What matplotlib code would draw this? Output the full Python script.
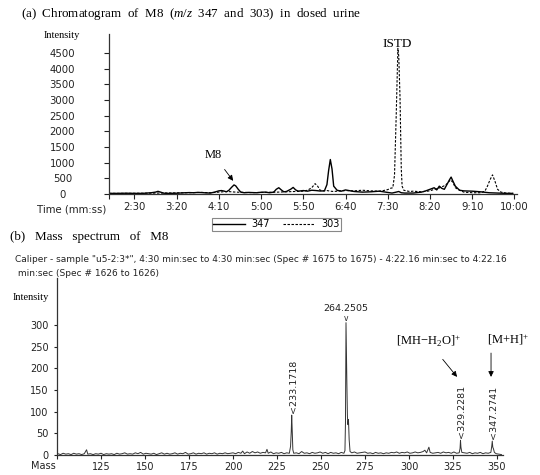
import matplotlib
matplotlib.use("Agg")
import matplotlib.pyplot as plt

# ---------------- data ----------------
# (a) chromatogram, time in seconds
t_347 = [120, 130, 140, 150, 160, 170, 175, 178, 181, 185, 190, 200, 210, 215, 220, 225, 230, 235,
         240, 245, 250, 253, 256, 259, 262, 265, 268, 270, 273, 276, 280, 285, 290, 295, 300, 305,
         310, 315, 318, 321, 324, 327, 330, 335, 338, 341, 344, 350, 355, 360, 365, 370, 375, 378,
         380, 382, 384, 386, 390, 395, 400, 410, 420, 430, 440, 450, 455, 460, 463, 466, 470, 480,
         490, 495, 500, 505, 508, 511, 514, 517, 520, 523, 525, 527, 530, 535, 540, 550, 560, 570,
         580, 590, 598]
i_347 = [20, 20, 25, 20, 20, 40, 60, 85, 60, 25, 20, 25, 40, 45, 40, 50, 45, 35,
         30, 60, 100, 110, 95, 70, 120, 210, 290, 260, 150, 60, 40, 50, 45, 40, 55, 60,
         40, 60, 150, 200, 130, 70, 80, 150, 210, 130, 90, 110, 90, 120, 110, 95, 100, 300,
         750, 1100, 800, 250, 120, 90, 130, 80, 60, 70, 90, 50, 30, 60, 80, 40, 30, 30,
         60, 100, 150, 200, 130, 250, 180, 150, 300, 450, 540, 420, 250, 120, 100, 90, 70, 40,
         30, 20, 20]

t_303 = [120, 140, 160, 180, 200, 220, 230, 240, 250, 260, 270, 280, 290, 300, 310, 320, 330, 340,
         350, 355, 360, 364, 367, 370, 374, 378, 382, 386, 390, 400, 410, 420, 430, 440, 445, 450,
         453, 456, 458, 460, 462, 463, 464.5, 466, 467, 469, 472, 476, 480, 490, 500, 505, 510, 513,
         516, 519, 521, 524, 527, 530, 535, 540, 550, 560, 565, 568, 571, 574, 577, 580, 584, 590, 598]
i_303 = [20, 20, 25, 30, 35, 45, 50, 40, 60, 80, 60, 50, 45, 50, 55, 60, 70, 80,
         90, 120, 200, 330, 250, 120, 100, 110, 90, 80, 90, 110, 100, 120, 100, 90, 110, 140,
         180, 200, 600, 2500, 4650, 4400, 3100, 800, 250, 120, 100, 80, 90, 70, 100, 150, 180, 220,
         250, 300, 350, 450, 380, 200, 120, 60, 40, 40, 90, 250, 450, 610, 400, 150, 60, 30, 20]

chrom_yticks = [0, 500, 1000, 1500, 2000, 2500, 3000, 3500, 4000, 4500]
chrom_xticks = [150, 200, 250, 300, 350, 400, 450, 500, 550, 600]

# (b) mass spectrum
mz = [100.5, 102, 103.5, 105, 106.5, 108, 109.5, 111, 112.5, 114, 115.5, 116.8, 117.5, 119, 120.5,
      122, 123.5, 125, 126.5, 128, 129.5, 131, 132.5, 134, 135.5, 137, 138.5, 140, 141.5, 143,
      144.5, 146, 147.5, 149, 150.5, 152, 153.5, 155, 156.5, 158, 159.5, 161, 162.5, 164, 165.5,
      167, 168.5, 170, 171.5, 173, 174.5, 176, 177.5, 179, 180.5, 182, 183.5, 185, 186.5, 188,
      189.5, 191, 192.5, 194, 195.5, 197, 198.5, 200, 201.5, 203, 204.5, 205.5, 206.5, 208, 209.5,
      211, 212.5, 214, 215.5, 217, 218.5, 219.3, 220, 221.5, 223, 224.5, 226, 227.5, 229, 230.5,
      232, 232.7, 233.1, 233.35, 233.6, 234, 234.5, 236, 237.5, 239, 240.5, 242, 243.5, 245, 246.5,
      248, 249.5, 251, 252.5, 254, 255.5, 257, 258.5, 260, 261.5, 263, 263.6, 263.9, 264.2, 264.45,
      264.7, 265, 265.3, 265.6, 266, 266.5, 267.5, 269, 270.5, 272, 273.5, 275, 276.5, 278, 279.5,
      281, 282.5, 284, 285.5, 287, 288.5, 290, 291.5, 293, 294.5, 296, 297.5, 299, 300.5, 302,
      303.5, 305, 306.5, 308, 309, 310, 311.3, 312, 313.5, 315, 316.5, 318, 319.5, 321, 322.5,
      324, 325.5, 327, 328.5, 329.0, 329.25, 329.5, 330, 331.5, 333, 334.5, 336, 337.5, 339,
      340.5, 342, 343.5, 345, 346.5, 347.0, 347.3, 347.6, 348, 348.5, 349.5, 351, 352.5]
ms_int = [3, 1, 4, 2, 3, 1, 4, 2, 3, 1, 3, 12, 2, 3, 1,
          3, 2, 4, 1, 3, 2, 3, 1, 4, 2, 3, 5, 2, 3, 2,
          5, 3, 6, 2, 4, 3, 2, 4, 1, 3, 5, 2, 4, 2, 3,
          5, 2, 4, 3, 6, 2, 3, 5, 2, 4, 3, 5, 2, 4, 3,
          5, 2, 4, 3, 5, 3, 4, 5, 3, 6, 4, 9, 3, 7, 4,
          8, 5, 7, 4, 6, 5, 13, 4, 7, 3, 5, 4, 6, 3, 5,
          4, 20, 55, 92, 60, 12, 4, 5, 3, 8, 4, 5, 3, 6, 4,
          5, 7, 4, 6, 3, 6, 4, 5, 3, 6, 4, 10, 75, 305, 225,
          165, 90, 70, 82, 35, 8, 5, 7, 4, 5, 6, 7, 4, 5, 3,
          6, 4, 5, 3, 5, 4, 6, 5, 7, 4, 6, 5, 7, 4, 5,
          7, 5, 6, 8, 11, 5, 18, 6, 4, 5, 6, 4, 7, 5, 6,
          4, 7, 4, 5, 15, 34, 18, 6, 5, 4, 6, 3, 5, 4,
          6, 3, 5, 4, 6, 20, 32, 18, 14, 6, 3, 2, 1]
ms_yticks = [0, 50, 100, 150, 200, 250, 300]
ms_xticks = [100, 125, 150, 175, 200, 225, 250, 275, 300, 325, 350]
peak_labels = [(233.35, 92, "<233.1718"), (329.25, 34, "<329.2281"), (347.3, 32, "<347.2741")]
base_peak = (264.2, 305, "264.2505")

# ---------------- style ----------------
plt.rcParams["font.family"] = ["DejaVu Sans"]
plt.rcParams["mathtext.fontset"] = "custom"
plt.rcParams["mathtext.rm"] = "Liberation Serif"
plt.rcParams["mathtext.it"] = "Liberation Serif:italic"
SERIF = ["Liberation Serif", "DejaVu Serif"]
W, H = 540, 475


def fx(px):
    return px / W


def fy(py):
    return 1 - py / H


fig = plt.figure(figsize=(5.4, 4.75), dpi=100)
fig.patch.set_facecolor("white")

# ---------------- (a) chromatogram ----------------
ax1 = fig.add_axes([fx(109), fy(194), fx(517) - fx(109), fy(34) - fy(194)])
ax1.plot(t_347, i_347, color="black", lw=1.0, label="347")
ax1.plot(t_303, i_303, color="black", lw=0.8, ls=(0, (2.2, 1.4)), label="303")
ax1.set_xlim(120, 603)
ax1.set_ylim(0, 5106)
for s in ["top", "right"]:
    ax1.spines[s].set_visible(False)
for s in ["left", "bottom"]:
    ax1.spines[s].set_color("#333333")
    ax1.spines[s].set_linewidth(0.9)
ax1.set_yticks(chrom_yticks)
ax1.set_yticklabels([str(v) for v in chrom_yticks])
for lab in ax1.get_yticklabels():
    lab.set_horizontalalignment("center")
ax1.tick_params(axis="y", direction="out", length=3.6, width=0.8, pad=30, labelsize=7.3, colors="#222222")
ax1.set_xticks([120] + chrom_xticks)
ax1.set_xticklabels([""] + ["%d:%02d" % (v // 60, v % 60) for v in chrom_xticks])
ax1.tick_params(axis="x", direction="out", length=3.6, width=0.8, pad=2.5, labelsize=7.3, colors="#222222")

fig.text(fx(62), fy(35), "Intensity", ha="center", va="center", fontsize=7.5, family=SERIF)
fig.text(fx(106), fy(210), "Time (mm:ss)", ha="right", va="center", fontsize=7.3, color="#222222")
fig.text(fx(21), fy(14), r"(a)  Chromatogram  of  M8  ($m/z$  347  and  303)  in  dosed  urine",
         ha="left", va="center", fontsize=9.4, family=SERIF)

ax1.annotate("M8", xy=(267, 420), xytext=(244, 1240), ha="center", va="center",
             fontsize=9, family=SERIF,
             arrowprops=dict(arrowstyle="-|>", color="black", lw=0.6, mutation_scale=8,
                             shrinkA=5, shrinkB=0))
ax1.text(461, 4790, "ISTD", ha="center", va="center", fontsize=9.5, family=SERIF)

leg = ax1.legend(loc="center", bbox_to_anchor=(0.41, -0.19), ncol=2, fontsize=7,
                 handlelength=3.3, handletextpad=0.6, columnspacing=1.4,
                 borderpad=0.15, fancybox=False, framealpha=1)
leg.get_frame().set_edgecolor("#888888")
leg.get_frame().set_linewidth(0.8)

# ---------------- (b) mass spectrum ----------------
ax2 = fig.add_axes([fx(57), fy(455), fx(503) - fx(57), fy(278) - fy(455)])
ax2.plot(mz, ms_int, color="#333333", lw=0.7)
ax2.set_xlim(100, 353.4)
ax2.set_ylim(0, 408)
for s in ["top", "right"]:
    ax2.spines[s].set_visible(False)
for s in ["left", "bottom"]:
    ax2.spines[s].set_color("#333333")
    ax2.spines[s].set_linewidth(0.9)
ax2.set_yticks(ms_yticks)
ax2.tick_params(axis="y", direction="out", length=2.5, width=0.8, pad=3.5, labelsize=7, colors="#222222")
ax2.set_xticks(ms_xticks)
ax2.set_xticklabels([""] + [str(v) for v in ms_xticks[1:]])
ax2.tick_params(axis="x", direction="out", length=3, width=0.8, pad=2, labelsize=7, colors="#222222")

fig.text(fx(31), fy(297), "Intensity", ha="center", va="center", fontsize=7.5, family=SERIF)
fig.text(fx(56), fy(466), "Mass", ha="right", va="center", fontsize=7, color="#222222")
fig.text(fx(10), fy(237), "(b)   Mass   spectrum   of   M8", ha="left", va="center",
         fontsize=9.4, family=SERIF)
fig.text(fx(15), fy(260),
         'Caliper - sample "u5-2:3*", 4:30 min:sec to 4:30 min:sec (Spec # 1675 to 1675) - 4:22.16 min:sec to 4:22.16',
         ha="left", va="center", fontsize=6.5, color="#222222")
fig.text(fx(15), fy(273), " min:sec (Spec # 1626 to 1626)",
         ha="left", va="center", fontsize=6.5, color="#222222")

for m, h, txt in peak_labels:
    ax2.annotate(txt, xy=(m, h), xytext=(1, 1.5), textcoords="offset points",
                 rotation=90, ha="center", va="bottom", fontsize=6.8, color="#222222")
bm, bh, btxt = base_peak
ax2.annotate("v", xy=(bm, bh), xytext=(0, 0), textcoords="offset points",
             ha="center", va="bottom", fontsize=5.5, color="#222222")
ax2.annotate(btxt, xy=(bm, bh), xytext=(0, 7), textcoords="offset points",
             ha="center", va="bottom", fontsize=6.8, color="#222222")

ax2.annotate(r"[MH$-$H$_2$O]$^{+}$", xy=(327.3, 180), xytext=(310.8, 262),
             ha="center", va="center", fontsize=9, family=SERIF, annotation_clip=False,
             arrowprops=dict(arrowstyle="-|>", color="black", lw=0.6, mutation_scale=8,
                             shrinkA=7, shrinkB=0))
ax2.annotate(r"[M+H]$^{+}$", xy=(346.6, 180), xytext=(356.5, 265),
             ha="center", va="center", fontsize=9, family=SERIF, annotation_clip=False)
ax2.annotate("", xy=(346.6, 180), xytext=(346.6, 235), annotation_clip=False,
             arrowprops=dict(arrowstyle="-|>", color="black", lw=0.6, mutation_scale=8,
                             shrinkA=0, shrinkB=0))

fig.savefig("out.png", dpi=100, facecolor="white")
